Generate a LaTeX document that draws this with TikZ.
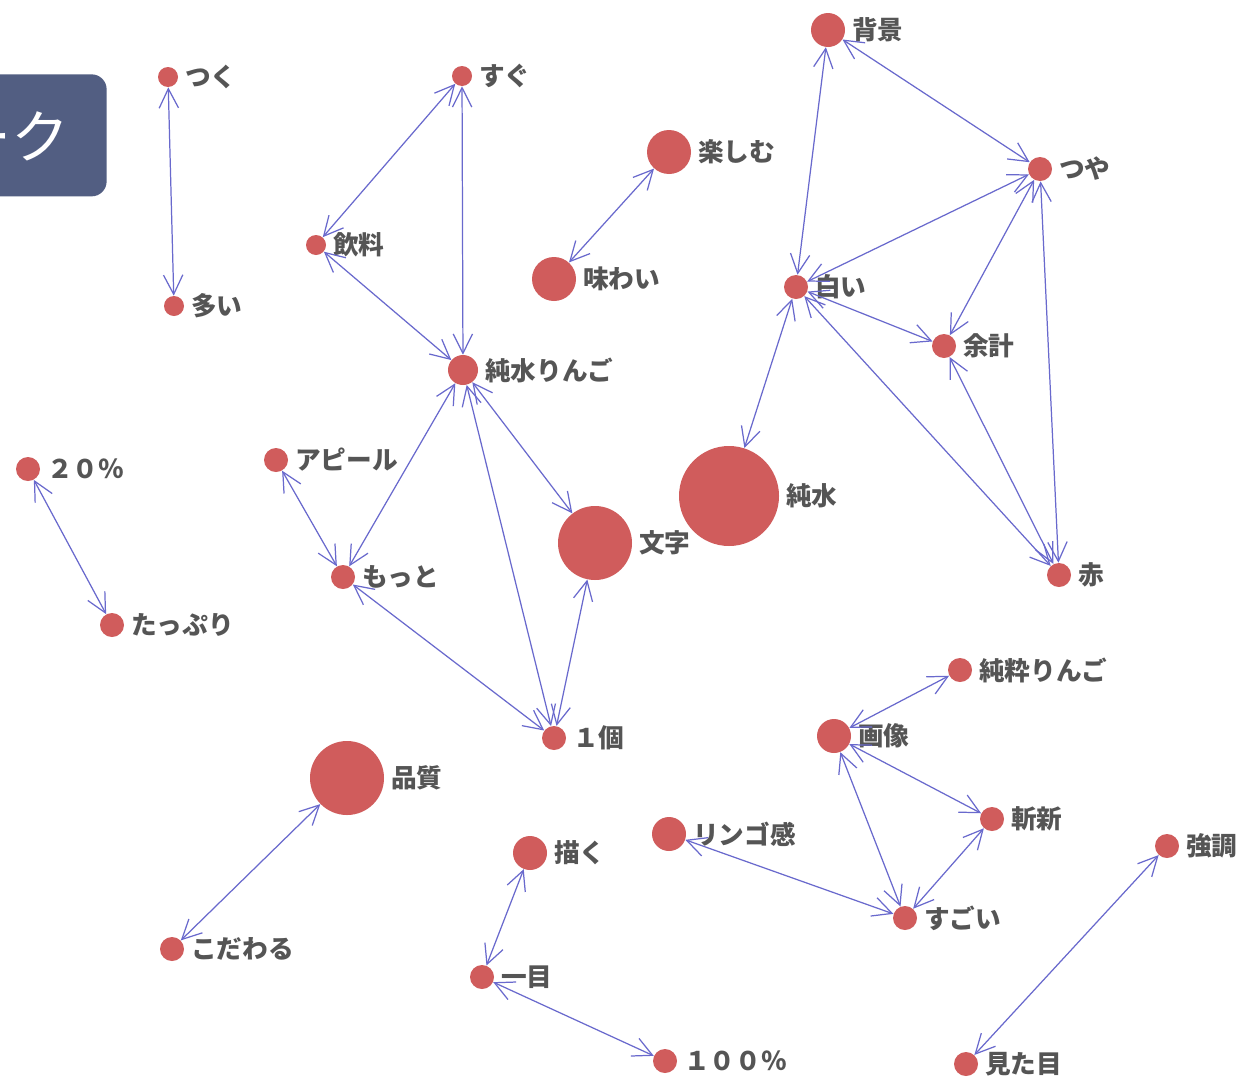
\documentclass[tikz,border=0pt]{standalone}
\usepackage{fontspec}
\newfontfamily\jp{Noto Sans CJK JP}
\usetikzlibrary{arrows.meta}
\definecolor{nodered}{RGB}{208,92,92}
\definecolor{edgeblue}{RGB}{105,105,205}
\definecolor{lblgray}{RGB}{85,85,85}
\definecolor{boxblue}{RGB}{82,94,130}
\tikzset{
  dot/.style={circle, fill=nodered, draw=none, inner sep=0pt},
  lbl/.style={font=\jp\bfseries\fontsize{14.6pt}{16pt}\selectfont, text=lblgray, inner sep=0pt, anchor=west},
  edge/.style={draw=edgeblue, line width=0.7pt, {Straight Barb[length=11pt,width=11pt]}-{Straight Barb[length=11pt,width=11pt]}},
}
\newcommand{\wn}[5]{%
  \node[dot, minimum size=#4*0.4mm] (#1) at (#2,#3) {};
  \node[lbl] (#1-l) at ([xshift=1.3mm]#1.east) {#5};}
\begin{document}
\begin{tikzpicture}[x=0.2mm,y=-0.2mm]
\useasboundingbox (0,0) rectangle (1239,1078);
\fill[white] (0,0) rectangle (1239,1078);
\begin{scope}
\clip (0,0) rectangle (1239,1078);
\node[fill=boxblue, rounded corners=3mm, minimum width=170*0.2mm, minimum height=122*0.2mm, inner sep=0pt, anchor=north east] (box) at (107,74) {};
\node[font=\jp\fontsize{33pt}{36pt}\selectfont, text=white, inner sep=0pt, anchor=east] (boxtext) at (70,136) {ーク};
\end{scope}

\wn{tsuku}{168}{77}{10}{つく}
\wn{ooi}{174}{306}{10}{多い}
\wn{sugu}{462}{76}{10}{すぐ}
\wn{inryo}{316}{245}{10}{飲料}
\wn{jrin}{463}{370}{15}{純水りんご}
\wn{tano}{669}{152}{22}{楽しむ}
\wn{aji}{554}{279}{22}{味わい}
\wn{haikei}{828}{30}{17}{背景}
\wn{tsuya}{1040}{169}{12}{つや}
\wn{shiroi}{796}{287}{12}{白い}
\wn{yokei}{944}{346}{12}{余計}
\wn{junsui}{729}{496}{50}{純水}
\wn{moji}{595}{543}{37}{文字}
\wn{aka}{1059}{575}{12}{赤}
\wn{p20}{28}{469}{12}{２０％}
\wn{tappuri}{112}{625}{12}{たっぷり}
\wn{appeal}{276}{460}{12}{アピール}
\wn{motto}{343}{577}{12}{もっと}
\wn{ikko}{554}{738}{12}{１個}
\wn{jsui}{960}{670}{12}{純粋りんご}
\wn{gazo}{834}{736}{17}{画像}
\wn{zanshin}{992}{819}{12}{斬新}
\wn{hinshitsu}{347}{778}{37}{品質}
\wn{ringo}{669}{834}{17}{リンゴ感}
\wn{egaku}{530}{853}{17}{描く}
\wn{sugoi}{905}{918}{12}{すごい}
\wn{kyocho}{1167}{846}{12}{強調}
\wn{kodawaru}{172}{949}{12}{こだわる}
\wn{hitome}{482}{977}{12}{一目}
\wn{p100}{665}{1061}{12}{１００％}
\wn{mitame}{966}{1064}{12}{見た目}

\draw[edge] (tsuku) -- (ooi);
\draw[edge] (sugu) -- (inryo);
\draw[edge] (sugu) -- (jrin);
\draw[edge] (inryo) -- (jrin);
\draw[edge] (tano) -- (aji);
\draw[edge] (haikei) -- (shiroi);
\draw[edge] (haikei) -- (tsuya);
\draw[edge] (tsuya) -- (shiroi);
\draw[edge] (tsuya) -- (yokei);
\draw[edge] (tsuya) -- (aka);
\draw[edge] (shiroi) -- (yokei);
\draw[edge] (shiroi) -- (junsui);
\draw[edge] (shiroi) -- (aka);
\draw[edge] (yokei) -- (aka);
\draw[edge] (p20) -- (tappuri);
\draw[edge] (appeal) -- (motto);
\draw[edge] (jrin) -- (motto);
\draw[edge] (jrin) -- (moji);
\draw[edge] (jrin) -- (ikko);
\draw[edge] (motto) -- (ikko);
\draw[edge] (moji) -- (ikko);
\draw[edge] (gazo) -- (jsui);
\draw[edge] (gazo) -- (zanshin);
\draw[edge] (gazo) -- (sugoi);
\draw[edge] (zanshin) -- (sugoi);
\draw[edge] (ringo) -- (sugoi);
\draw[edge] (hinshitsu) -- (kodawaru);
\draw[edge] (egaku) -- (hitome);
\draw[edge] (hitome) -- (p100);
\draw[edge] (kyocho) -- (mitame);
\end{tikzpicture}
\end{document}
